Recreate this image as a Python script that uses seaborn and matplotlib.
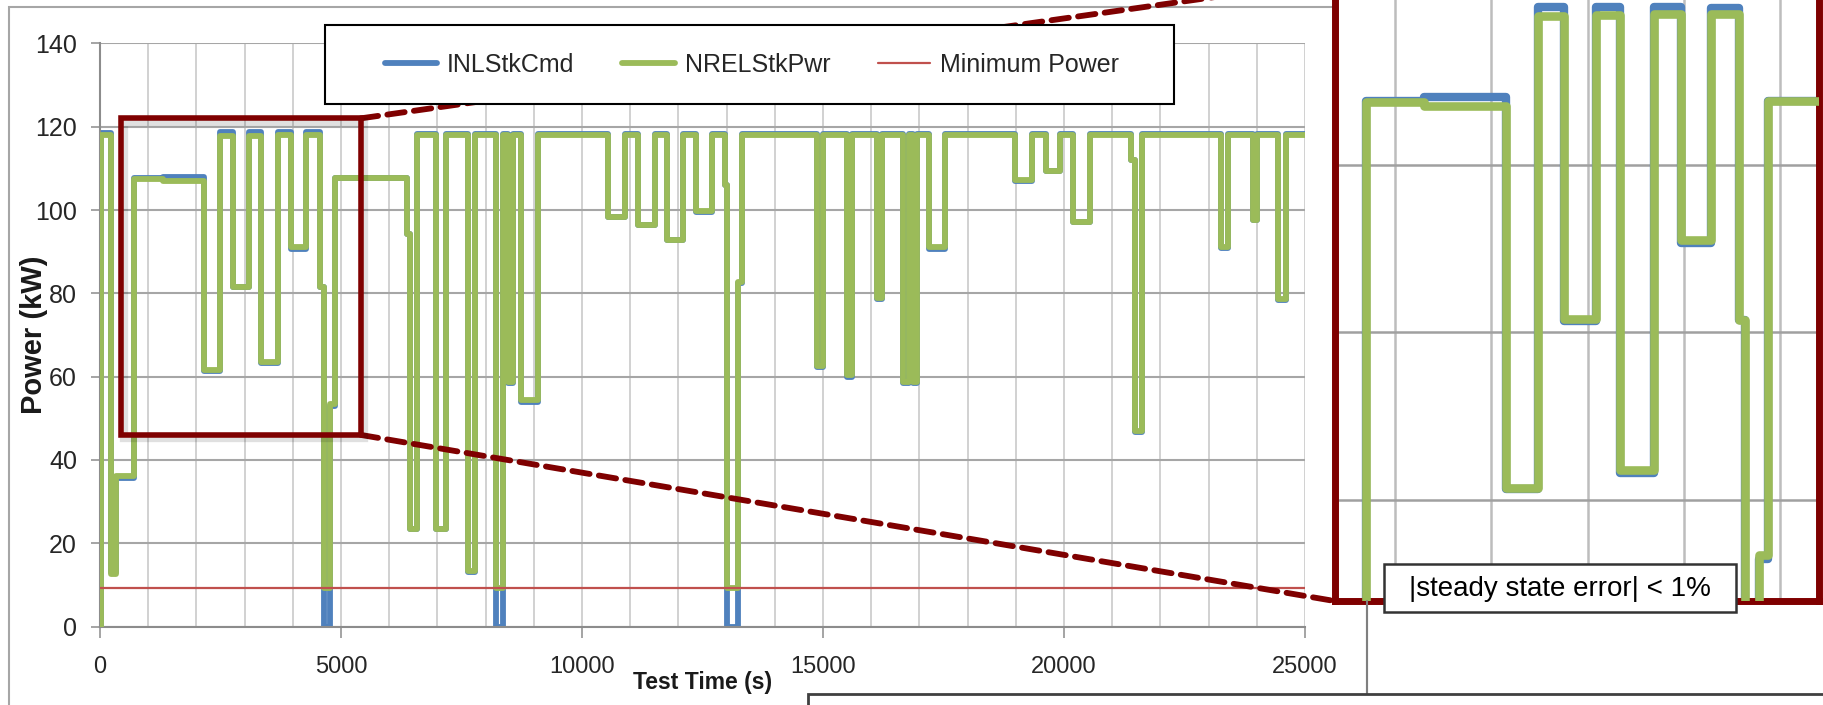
import matplotlib
matplotlib.use("Agg")
import matplotlib.pyplot as plt
import matplotlib.font_manager as fm
from matplotlib.patches import Rectangle, ConnectionPatch
from matplotlib.lines import Line2D
from matplotlib.ticker import MultipleLocator, FixedLocator
import seaborn as sns

# ---------------- data ----------------
time_s = [0, 30, 220, 330, 700, 1300, 2150, 2480, 2760, 3090, 3340, 3690, 3970,
          4280, 4570, 4640, 4780, 4880, 6360, 6430, 6580, 6965, 7170, 7640, 7790,
          8220, 8370, 8460, 8570, 8740, 9080, 10530, 10900, 11170, 11520, 11760,
          12100, 12370, 12690, 12970, 13010, 13230, 13320, 14870, 15010, 15490,
          15600, 16110, 16220, 16670, 16790, 16870, 16960, 17190, 17530, 18990,
          19330, 19630, 19920, 20190, 20540, 21400, 21470, 21610, 23260, 23400,
          23920, 24010, 24450, 24610, 25000]

inl_stk_cmd = [0, 118.6, 13.0, 35.6, 107.6, 108.0, 61.3, 118.8, 81.4, 118.8, 63.2, 118.8, 90.7,
               118.7, 81.5, 0.0, 53.0, 107.6, 94.3, 23.3, 118.3, 23.3, 118.3, 13.2, 118.3,
               0.0, 118.3, 58.5, 118.3, 54.0, 118.3, 98.3, 118.3, 96.3, 118.3, 92.7,
               118.3, 99.6, 118.3, 106.0, 0.0, 82.4, 118.3, 62.4, 118.3, 60.0,
               118.3, 78.6, 118.3, 58.4, 118.3, 58.4, 118.3, 90.7, 118.3, 107.0,
               118.3, 109.3, 118.3, 97.1, 118.3, 112.0, 46.7, 118.3, 90.9, 118.3,
               97.5, 118.3, 78.5, 118.3, 118.3]

nrel_stk_pwr = [0, 117.9, 12.5, 36.2, 107.5, 107.0, 61.5, 117.7, 81.6, 117.8, 63.6, 117.9, 91.0,
                117.9, 81.5, 9.3, 53.5, 107.6, 94.3, 23.3, 118.1, 23.4, 118.1, 13.3, 118.1,
                9.3, 118.1, 58.8, 118.1, 54.5, 118.1, 98.4, 118.1, 96.4, 118.1, 92.8,
                118.1, 99.8, 118.1, 106.0, 9.3, 82.6, 118.1, 62.6, 118.1, 60.4,
                118.1, 78.8, 118.1, 58.8, 118.1, 58.8, 118.1, 91.0, 118.1, 107.2,
                118.1, 109.4, 118.1, 97.2, 118.1, 112.0, 46.9, 118.1, 91.0, 118.1,
                97.6, 118.1, 78.7, 118.1, 118.1]

min_power_t = [0, 25000]
min_power_kw = [9.2, 9.2]

series_labels = ["INLStkCmd", "NRELStkPwr", "Minimum Power"]
x_ticks = [0, 5000, 10000, 15000, 20000, 25000]
y_ticks = [0, 20, 40, 60, 80, 100, 120, 140]
zoom_t = [440, 5410]          # region magnified in the inset (s)
zoom_p = [46, 122]            # region magnified in the inset (kW)
inset_t = [370, 5405]
inset_p = [48, 122]
note_text = "|steady state error| < 1%"

# ---------------- style ----------------
BLUE, GREEN, RED, DRED = "#4F81BD", "#9BBB59", "#C0504D", "#7F0000"
sns.set_theme(style="white")
names = {f.name for f in fm.fontManager.ttflist}
HAS_NARROW = "Liberation Sans Narrow" in names
NARROW = "Liberation Sans Narrow" if HAS_NARROW else "Liberation Sans"
XT_FS = 20 if HAS_NARROW else 17
YT_FS = 20 if HAS_NARROW else 18
LEG_FS = 20 if HAS_NARROW else 18
plt.rcParams["font.family"] = [NARROW, "DejaVu Sans"]

W, H, DPI = 1824, 705, 100
fig = plt.figure(figsize=(W / DPI, H / DPI), dpi=DPI)
fig.patch.set_facecolor("white")


def fx(p):
    return p / W


def fy(p):
    return 1 - p / H


# outer chart border
fig.add_artist(Rectangle((fx(9), fy(760)), fx(1367) - fx(9), fy(7) - fy(760),
                         transform=fig.transFigure, fill=False,
                         edgecolor="#a6a6a6", lw=1.5, zorder=-1))

# ---------------- main axes ----------------
ax = fig.add_axes([fx(100), fy(626.5), (1305 - 100) / W, 583.1 / H])
sns.lineplot(x=time_s, y=inl_stk_cmd, drawstyle="steps-post", color=BLUE,
             linewidth=3.2, ax=ax, label=series_labels[0], sort=False,
             estimator=None, zorder=2)
sns.lineplot(x=time_s, y=nrel_stk_pwr, drawstyle="steps-post", color=GREEN,
             linewidth=3.8, ax=ax, label=series_labels[1], sort=False,
             estimator=None, zorder=3)
sns.lineplot(x=min_power_t, y=min_power_kw, color=RED, linewidth=1.8, ax=ax,
             label=series_labels[2], sort=False, estimator=None, zorder=4)

ax.set_xlim(0, 25000)
ax.set_ylim(0, 140)
ax.xaxis.set_major_locator(FixedLocator(x_ticks))
ax.xaxis.set_minor_locator(MultipleLocator(1000))
ax.yaxis.set_major_locator(FixedLocator(y_ticks))
ax.set_axisbelow(True)
ax.grid(True, which="major", axis="y", color="#a6a6a6", lw=1.5)
ax.grid(True, which="both", axis="x", color="#cacaca", lw=1.2)
for s in ["top", "right"]:
    ax.spines[s].set_visible(False)
for s in ["left", "bottom"]:
    ax.spines[s].set_color("#8c8c8c")
    ax.spines[s].set_linewidth(1.5)
ax.tick_params(axis="x", which="major", bottom=True, length=8, width=1.1,
               color="#8c8c8c", pad=13, labelsize=XT_FS, labelcolor="#262626")
ax.tick_params(axis="x", which="minor", bottom=False, length=0)
ax.tick_params(axis="y", which="major", left=True, length=6.5, width=1.1,
               color="#8c8c8c", pad=10, labelsize=YT_FS, labelcolor="#262626")

ax.set_xlabel("Test Time (s)", fontsize=16.5, fontweight="bold", color="#1a1a1a")
ax.xaxis.set_label_coords(0.5, (626.5 - 671) / 583.1)
ax.set_ylabel("Power (kW)", fontsize=21, fontweight="bold", color="#1a1a1a",
              family=["Liberation Sans", "DejaVu Sans"])
ax.yaxis.set_label_coords((48 - 100) / 1205, 0.5)

# legend with its own frame
handles, labels = ax.get_legend_handles_labels()
for h, lw in zip(handles, [4.2, 4.2, 1.6]):
    h.set_linewidth(lw)
leg = ax.legend(handles, labels, loc="center", bbox_to_anchor=(fx(752), fy(64.5)),
                bbox_transform=fig.transFigure, ncol=3, frameon=False,
                fontsize=LEG_FS, handlelength=2.1, handletextpad=0.4,
                columnspacing=1.9)
leg.set_zorder(7)
ax.add_artist(Rectangle((fx(325), fy(104)), fx(1174) - fx(325), fy(25) - fy(104),
                        transform=fig.transFigure, facecolor="white",
                        edgecolor="black", lw=1.5, zorder=6, clip_on=False))

# zoom box on main chart (with a faint shadow)
ax.add_patch(Rectangle((zoom_t[0] + 60, zoom_p[0] - 0.8), zoom_t[1] - zoom_t[0],
                       zoom_p[1] - zoom_p[0], fill=False, edgecolor="#000000",
                       alpha=0.12, lw=6, zorder=4.9, clip_on=False))
ax.add_patch(Rectangle((zoom_t[0], zoom_p[0]), zoom_t[1] - zoom_t[0], zoom_p[1] - zoom_p[0],
                       fill=False, edgecolor=DRED, lw=4, zorder=5, clip_on=False))

# ---------------- inset ----------------
axins = fig.add_axes([fx(1334.5), fy(601), (1819 - 1334.5) / W, (601 + 20) / H])
sns.lineplot(x=time_s, y=inl_stk_cmd, drawstyle="steps-post", color=BLUE,
             linewidth=6.0, ax=axins, sort=False, estimator=None, zorder=2)
sns.lineplot(x=time_s, y=nrel_stk_pwr, drawstyle="steps-post", color=GREEN,
             linewidth=6.2, ax=axins, sort=False, estimator=None, zorder=3)
if axins.get_legend() is not None:
    axins.get_legend().remove()
axins.set_xlim(*inset_t)
axins.set_ylim(*inset_p)
axins.xaxis.set_major_locator(MultipleLocator(1000))
axins.yaxis.set_major_locator(MultipleLocator(20))
axins.set_axisbelow(True)
axins.grid(True, axis="y", color="#a0a0a0", lw=1.8)
axins.grid(True, axis="x", color="#bdbdbd", lw=1.8)
axins.tick_params(left=False, bottom=False, labelleft=False, labelbottom=False)
axins.set_xlabel("")
axins.set_ylabel("")
for s in axins.spines.values():
    s.set_color(DRED)
    s.set_linewidth(5)
axins.set_facecolor("white")

# dashed connectors from zoom box to inset
for (ya, yb) in [(zoom_p[1], 1), (zoom_p[0], 0)]:
    con = ConnectionPatch(xyA=(zoom_t[1], ya), coordsA=ax.transData,
                          xyB=(0, yb), coordsB=axins.transAxes,
                          color=DRED, lw=4.2, linestyle=(0, (3.0, 1.6)),
                          zorder=4, clip_on=False)
    ax.add_artist(con)

# pasted-image edge below inset and cut-off box at the bottom
fig.add_artist(Line2D([fx(1367), fx(1367)], [fy(601), fy(694)],
                      transform=fig.transFigure, color="#7f7f7f", lw=1.5, zorder=1))
fig.add_artist(Rectangle((fx(808), fy(760)), fx(1900) - fx(808), fy(694) - fy(760),
                         transform=fig.transFigure, facecolor="white",
                         edgecolor="#404040", lw=2, zorder=2))

# steady-state error note
fig.add_artist(Rectangle((fx(1384), fy(612)), fx(1736) - fx(1384), fy(564) - fy(612),
                         transform=fig.transFigure, facecolor="white",
                         edgecolor="#333333", lw=1.8, zorder=9))
fig.text(fx(1560), fy(589), note_text, ha="center", va="center", fontsize=20,
         family=["Liberation Sans", "DejaVu Sans"], color="black", zorder=10)

fig.savefig("out.png", dpi=DPI)
